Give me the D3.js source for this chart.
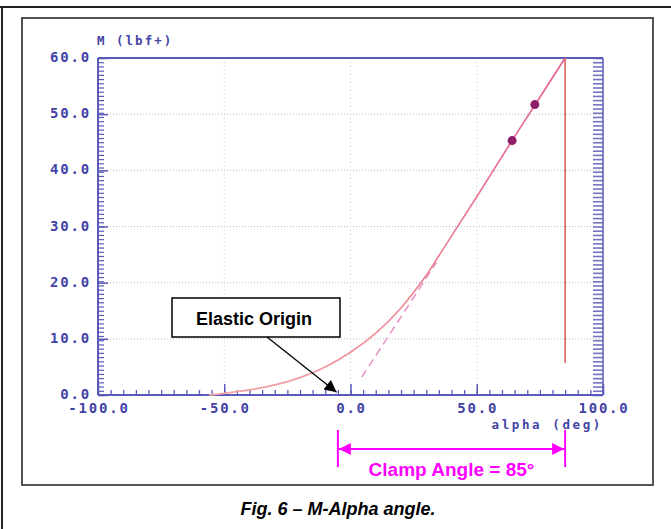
<!DOCTYPE html>
<html>
<head>
<meta charset="utf-8">
<script src="https://cdn.jsdelivr.net/npm/d3@7"></script>
<style>
  html, body { margin: 0; padding: 0; background: #fff; }
  svg { display: block; }
</style>
</head>
<body>
<svg id="chart" width="671" height="529"></svg>
<script>
// ---- data ----
const xTickValues = [-100, -50, 0, 50, 100];
const xTickLabels = ["-100.0", "-50.0", "0.0", "50.0", "100.0"];
const yTickValues = [0, 10, 20, 30, 40, 50, 60];
const yTickLabels = ["0.0", "10.0", "20.0", "30.0", "40.0", "50.0", "60.0"];

// M-alpha curve (alpha deg, M)
const curveAlpha = [-56, -50, -40, -30, -20, -10, 0, 10, 20, 30, 35, 41, 50, 64, 73, 85];
const curveM     = [0, 0.3, 0.9, 1.8, 3.1, 5.0, 7.6, 11.0, 15.5, 21.3, 24.8, 29.0, 35.3, 45.3, 51.6, 60];

// clamp drop line
const dropAlpha = [85, 85];
const dropM     = [60, 5.7];

// elastic (dashed) line
const elasticAlpha = [4.5, 34];
const elasticM     = [3.2, 23.6];

// marked points
const pointAlpha = [64, 73];
const pointM     = [45.3, 51.7];

const xTitle = "alpha (deg)";
const yTitle = "M (lbf+)";
const elasticLabel = "Elastic Origin";
const clampLabel = "Clamp Angle = 85\u00B0";
const caption = "Fig. 6 \u2013 M-Alpha angle.";

// ---- drawing ----
const svg = d3.select("#chart");
const x = d3.scaleLinear().domain([-100, 100]).range([98, 603]);
const y = d3.scaleLinear().domain([0, 60]).range([395, 58]);

const axisBlue = "#5a5ab8";
const labelBlue = "#4343a6";

// outer frame (top + left only)
svg.append("line").attr("x1", 0).attr("x2", 671).attr("y1", 7).attr("y2", 7)
  .attr("stroke", "#222").attr("stroke-width", 2);
svg.append("line").attr("x1", 2).attr("x2", 2).attr("y1", 6).attr("y2", 529)
  .attr("stroke", "#222").attr("stroke-width", 2);
// inner frame
svg.append("rect").attr("x", 22).attr("y", 18).attr("width", 631).attr("height", 467)
  .attr("fill", "#fff").attr("stroke", "#2a2a2a").attr("stroke-width", 1.6);

const defs = svg.append("defs");
const grad = defs.append("linearGradient").attr("id", "curveGrad")
  .attr("gradientUnits", "userSpaceOnUse")
  .attr("x1", x(-60)).attr("x2", x(85)).attr("y1", 0).attr("y2", 0);
grad.append("stop").attr("offset", "0%").attr("stop-color", "#f4aaa8");
grad.append("stop").attr("offset", "55%").attr("stop-color", "#ee8c98");
grad.append("stop").attr("offset", "100%").attr("stop-color", "#e4608e");

// grid (dotted)
const grid = svg.append("g");
grid.selectAll("line.h").data([10, 20, 30, 40, 50]).join("line")
  .attr("x1", x(-100)).attr("x2", x(100))
  .attr("y1", d => y(d)).attr("y2", d => y(d))
  .attr("stroke", "#b8b8c0").attr("stroke-width", 1).attr("stroke-dasharray", "1,2");
grid.selectAll("line.v").data([-50, 0, 50]).join("line")
  .attr("x1", d => x(d)).attr("x2", d => x(d))
  .attr("y1", y(60)).attr("y2", y(0))
  .attr("stroke", "#c4c4cc").attr("stroke-width", 1).attr("stroke-dasharray", "1,3");

// axes frame lines
svg.append("line").attr("x1", x(-100)).attr("x2", x(100)).attr("y1", y(60)).attr("y2", y(60))
  .attr("stroke", axisBlue).attr("stroke-width", 2);
svg.append("line").attr("x1", x(-100)).attr("x2", x(-100)).attr("y1", y(60)).attr("y2", y(0))
  .attr("stroke", axisBlue).attr("stroke-width", 2);
svg.append("line").attr("x1", x(-100)).attr("x2", x(100)).attr("y1", y(0)).attr("y2", y(0))
  .attr("stroke", axisBlue).attr("stroke-width", 2);
svg.append("line").attr("x1", x(100)).attr("x2", x(100)).attr("y1", y(60)).attr("y2", y(0))
  .attr("stroke", axisBlue).attr("stroke-width", 1.5);

// minor y ticks (left, pointing right) & right (pointing left)
const yMinor = d3.range(0, 60.01, 0.75);
const leftAxis = d3.axisRight(y).tickValues(yMinor).tickSize(6).tickFormat("");
svg.append("g").attr("transform", `translate(${x(-100)},0)`).call(leftAxis)
  .call(g => g.select(".domain").remove())
  .call(g => g.selectAll("line").attr("stroke", axisBlue).attr("stroke-width", 1.2));
const leftMajor = d3.axisRight(y).tickValues(yTickValues).tickSize(10).tickFormat("");
svg.append("g").attr("transform", `translate(${x(-100)},0)`).call(leftMajor)
  .call(g => g.select(".domain").remove())
  .call(g => g.selectAll("line").attr("stroke", axisBlue).attr("stroke-width", 1.5));
const rightAxis = d3.axisLeft(y).tickValues(yMinor).tickSize(10).tickFormat("");
svg.append("g").attr("transform", `translate(${x(100)},0)`).call(rightAxis)
  .call(g => g.select(".domain").remove())
  .call(g => g.selectAll("line").attr("stroke", axisBlue).attr("stroke-width", 1.6).attr("opacity", 0.85));

// x ticks (upward)
const xMinor = d3.range(-100, 100.01, 5);
const bottomAxis = d3.axisTop(x).tickValues(xMinor).tickSize(5).tickFormat("");
svg.append("g").attr("transform", `translate(0,${y(0)})`).call(bottomAxis)
  .call(g => g.select(".domain").remove())
  .call(g => g.selectAll("line").attr("stroke", axisBlue).attr("stroke-width", 1.3));
const bottomMajor = d3.axisTop(x).tickValues(xTickValues).tickSize(11).tickFormat("");
svg.append("g").attr("transform", `translate(0,${y(0)})`).call(bottomMajor)
  .call(g => g.select(".domain").remove())
  .call(g => g.selectAll("line").attr("stroke", axisBlue).attr("stroke-width", 1.5));

// tick labels
const tickFont = "'DejaVu Sans Mono', monospace";
svg.append("g").selectAll("text").data(yTickValues).join("text")
  .attr("x", 91).attr("y", d => y(d) + 4)
  .attr("text-anchor", "end")
  .attr("font-family", tickFont).attr("font-weight", "bold").attr("font-size", 14)
  .attr("letter-spacing", 1.8)
  .attr("fill", labelBlue)
  .text((d, i) => yTickLabels[i]);
svg.append("g").selectAll("text").data(xTickValues).join("text")
  .attr("x", d => x(d) + 1).attr("y", y(0) + 18)
  .attr("text-anchor", "middle")
  .attr("font-family", tickFont).attr("font-weight", "bold").attr("font-size", 14)
  .attr("letter-spacing", 1.8)
  .attr("fill", labelBlue)
  .text((d, i) => xTickLabels[i]);

// axis titles
svg.append("text").attr("x", x(-100) - 1).attr("y", y(60) - 13)
  .attr("font-family", tickFont).attr("font-weight", "bold").attr("font-size", 12.5)
  .attr("letter-spacing", 2).attr("fill", labelBlue).text(yTitle);
svg.append("text").attr("x", x(100)).attr("y", y(0) + 34)
  .attr("text-anchor", "end")
  .attr("font-family", tickFont).attr("font-weight", "bold").attr("font-size", 12.5)
  .attr("letter-spacing", 2.6).attr("fill", labelBlue).text(xTitle);

// data lines
const line = d3.line().x(d => x(d[0])).y(d => y(d[1])).curve(d3.curveCatmullRom.alpha(0.5));
const curveData = curveAlpha.map((a, i) => [a, curveM[i]]);
const elasticData = elasticAlpha.map((a, i) => [a, elasticM[i]]);
const dropData = dropAlpha.map((a, i) => [a, dropM[i]]);

svg.append("path").datum(elasticData).attr("d", d3.line().x(d => x(d[0])).y(d => y(d[1])))
  .attr("fill", "none").attr("stroke", "#e694c8").attr("stroke-width", 1.6)
  .attr("stroke-dasharray", "8,5");
svg.append("path").datum(curveData).attr("d", line)
  .attr("fill", "none").attr("stroke", "url(#curveGrad)").attr("stroke-width", 1.7);
svg.append("path").datum(dropData).attr("d", d3.line().x(d => x(d[0])).y(d => y(d[1])))
  .attr("fill", "none").attr("stroke", "#d45a5a").attr("stroke-width", 1.5);

svg.append("g").selectAll("circle").data(pointAlpha).join("circle")
  .attr("cx", d => x(d)).attr("cy", (d, i) => y(pointM[i])).attr("r", 4.5)
  .attr("fill", "#8e1e6a");

// Elastic Origin callout
const boxX = 172, boxY = 298, boxW = 168, boxH = 39;
svg.append("rect").attr("x", boxX).attr("y", boxY).attr("width", boxW).attr("height", boxH)
  .attr("fill", "#fff").attr("stroke", "#000").attr("stroke-width", 1.5);
svg.append("text").attr("x", boxX + boxW / 2 - 2).attr("y", boxY + 27)
  .attr("text-anchor", "middle")
  .attr("font-family", "Arial, 'Liberation Sans', sans-serif").attr("font-weight", "bold")
  .attr("font-size", 18).attr("fill", "#000").text(elasticLabel);

defs.append("marker").attr("id", "arrBlack").attr("viewBox", "0 0 10 10")
  .attr("refX", 10).attr("refY", 5).attr("markerWidth", 14).attr("markerHeight", 12)
  .attr("markerUnits", "userSpaceOnUse").attr("orient", "auto")
  .append("path").attr("d", "M0,0 L10,5 L0,10 z").attr("fill", "#000");
defs.append("marker").attr("id", "arrMag").attr("viewBox", "0 0 10 10")
  .attr("refX", 10).attr("refY", 5).attr("markerWidth", 15).attr("markerHeight", 12)
  .attr("markerUnits", "userSpaceOnUse").attr("orient", "auto-start-reverse")
  .append("path").attr("d", "M0,0 L10,5 L0,10 z").attr("fill", "#ff00ff");

svg.append("line").attr("x1", 267).attr("y1", boxY + boxH)
  .attr("x2", x(-5.5)).attr("y2", y(0.5))
  .attr("stroke", "#000").attr("stroke-width", 1.3).attr("marker-end", "url(#arrBlack)");

// Clamp angle dimension
const clampL = x(-5), clampR = x(85);
[clampL, clampR].forEach(cx => {
  svg.append("line").attr("x1", cx).attr("x2", cx).attr("y1", 430).attr("y2", 467)
    .attr("stroke", "#ff00ff").attr("stroke-width", 2);
});
svg.append("line").attr("x1", clampL + 1).attr("x2", clampR - 1).attr("y1", 449).attr("y2", 449)
  .attr("stroke", "#ff00ff").attr("stroke-width", 2)
  .attr("marker-start", "url(#arrMag)").attr("marker-end", "url(#arrMag)");
svg.append("text").attr("x", (clampL + clampR) / 2).attr("y", 476)
  .attr("text-anchor", "middle")
  .attr("font-family", "Arial, 'Liberation Sans', sans-serif").attr("font-weight", "bold")
  .attr("font-size", 19).attr("fill", "#ff00ff").text(clampLabel);

// caption
svg.append("text").attr("x", 338).attr("y", 515)
  .attr("text-anchor", "middle")
  .attr("font-family", "Arial, 'Liberation Sans', sans-serif").attr("font-weight", "bold")
  .attr("font-style", "italic").attr("font-size", 18).attr("fill", "#000").text(caption);
</script>
</body>
</html>
